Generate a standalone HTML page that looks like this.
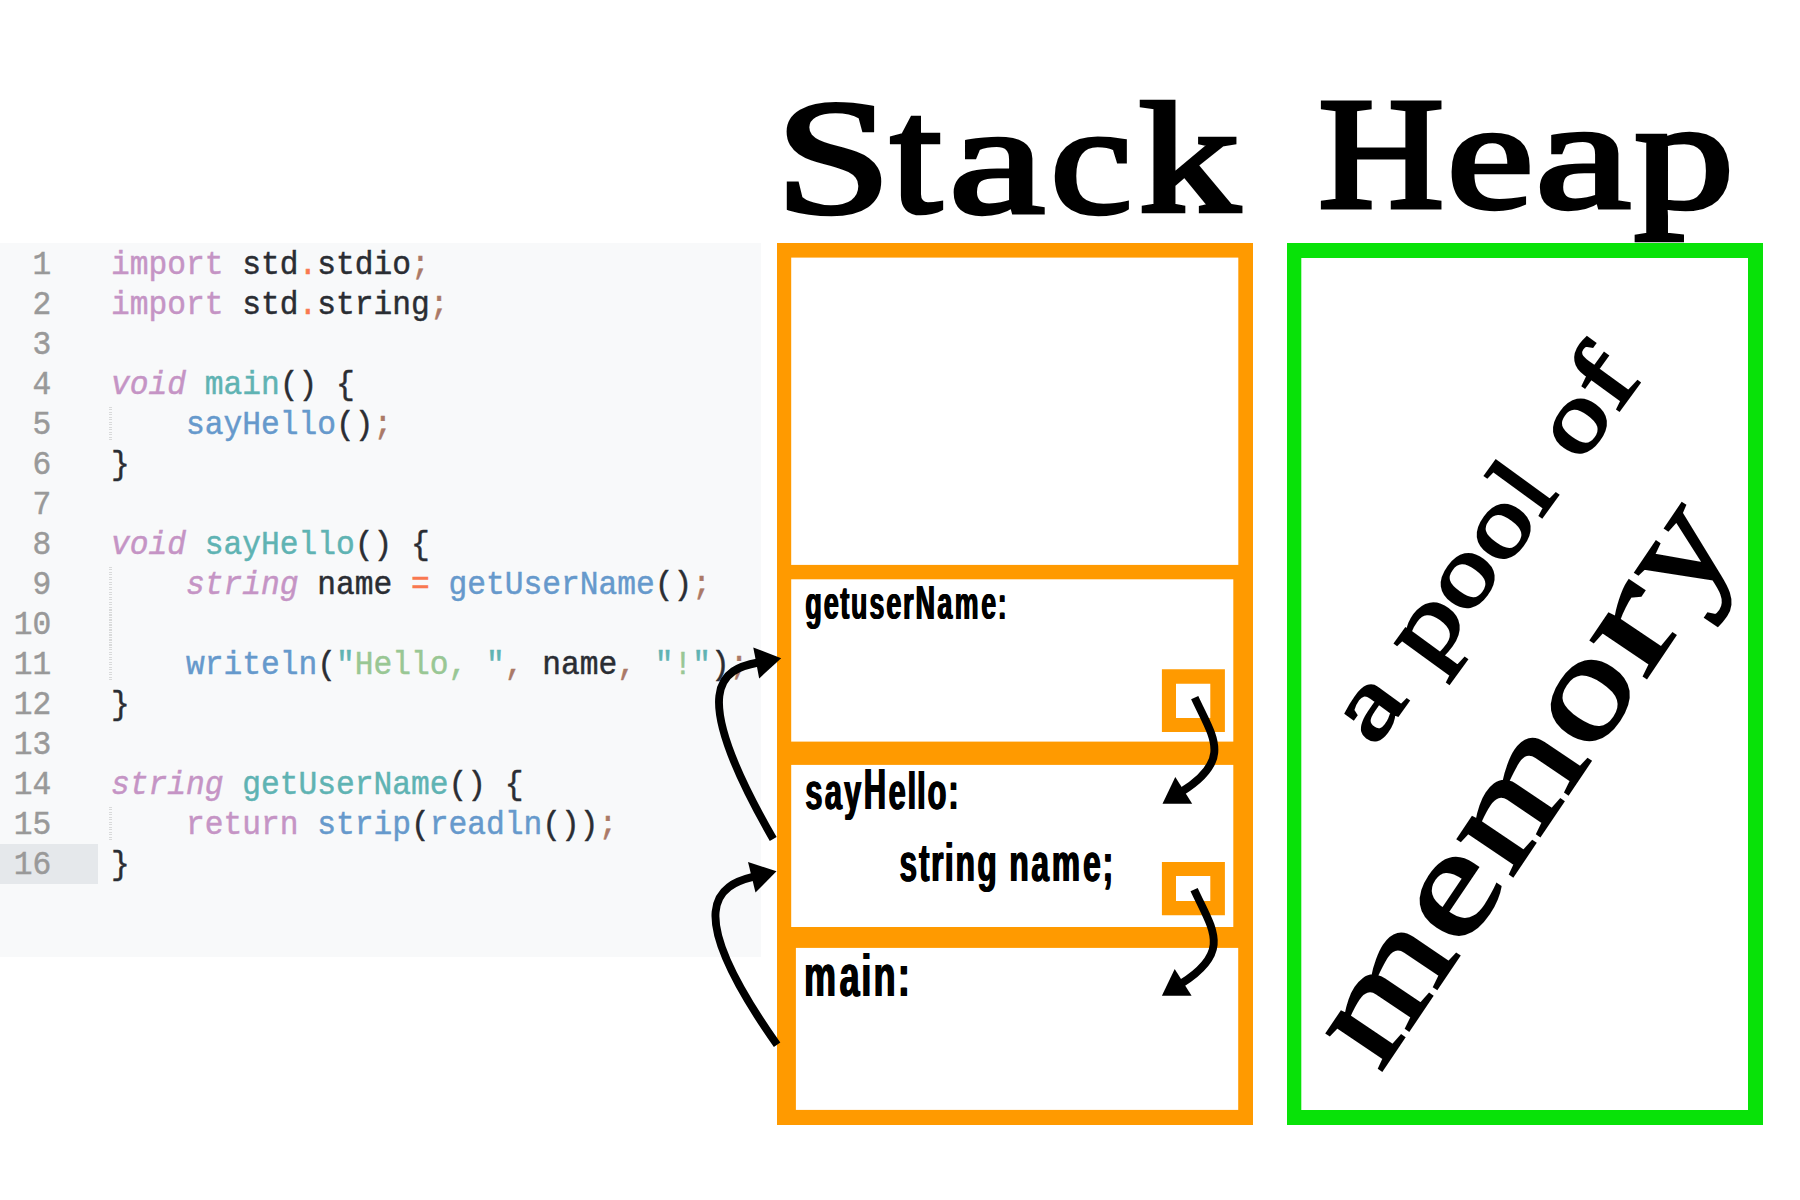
<!DOCTYPE html>
<html><head><meta charset="utf-8">
<style>
html,body{margin:0;padding:0;background:#fff;width:1800px;height:1200px;overflow:hidden;position:relative}
.code{position:absolute;left:0;top:243px;width:761px;height:714px;background:#f8f9fa}
.gut16{position:absolute;left:0;top:601px;width:98px;height:40px;background:#e5e8eb}
.ln,.cl{font-family:"Liberation Mono",monospace;font-size:31.25px;white-space:pre;font-kerning:none}
.ln,.cl{stroke-width:0.45px}
.ln{fill:#999;stroke:#999}
.cl{fill:#2a2d33;stroke:#2a2d33}
.k{fill:#c594c5;stroke:#c594c5}.i{font-style:italic}.f{fill:#5fb3b3;stroke:#5fb3b3}.c{fill:#6699cc;stroke:#6699cc}.s{fill:#99c794;stroke:#99c794}.p{fill:#ab7967;stroke:#ab7967}.o{fill:#f97850;stroke:#f97850}.q{fill:#5fb3b3;stroke:#5fb3b3}
.guide{position:absolute;left:109px;width:3px;background:repeating-linear-gradient(#d9dada 0 1px,transparent 1px 2.5px)}
svg{position:absolute;left:0;top:0}
</style></head><body>
<div class="code"><div class="gut16"></div></div>
<div class="guide" style="top:407px;height:35px"></div>
<div class="guide" style="top:567px;height:115px"></div>
<div class="guide" style="top:807px;height:35px"></div>
<svg width="1800" height="1200" viewBox="0 0 1800 1200">
<text class="ln" x="51.2" y="0" text-anchor="end" transform="translate(0 273.75) scale(1 1.06)">1</text>
<text class="cl" x="111" y="0" transform="translate(0 273.75) scale(1 1.06)" xml:space="preserve"><tspan class="k">import</tspan> std<tspan class="o">.</tspan>stdio<tspan class="p">;</tspan></text>
<text class="ln" x="51.2" y="0" text-anchor="end" transform="translate(0 313.75) scale(1 1.06)">2</text>
<text class="cl" x="111" y="0" transform="translate(0 313.75) scale(1 1.06)" xml:space="preserve"><tspan class="k">import</tspan> std<tspan class="o">.</tspan>string<tspan class="p">;</tspan></text>
<text class="ln" x="51.2" y="0" text-anchor="end" transform="translate(0 353.75) scale(1 1.06)">3</text>
<text class="ln" x="51.2" y="0" text-anchor="end" transform="translate(0 393.75) scale(1 1.06)">4</text>
<text class="cl" x="111" y="0" transform="translate(0 393.75) scale(1 1.06)" xml:space="preserve"><tspan class="k i">void</tspan> <tspan class="f">main</tspan>() {</text>
<text class="ln" x="51.2" y="0" text-anchor="end" transform="translate(0 433.75) scale(1 1.06)">5</text>
<text class="cl" x="111" y="0" transform="translate(0 433.75) scale(1 1.06)" xml:space="preserve">    <tspan class="c">sayHello</tspan>()<tspan class="p">;</tspan></text>
<text class="ln" x="51.2" y="0" text-anchor="end" transform="translate(0 473.75) scale(1 1.06)">6</text>
<text class="cl" x="111" y="0" transform="translate(0 473.75) scale(1 1.06)" xml:space="preserve">}</text>
<text class="ln" x="51.2" y="0" text-anchor="end" transform="translate(0 513.75) scale(1 1.06)">7</text>
<text class="ln" x="51.2" y="0" text-anchor="end" transform="translate(0 553.75) scale(1 1.06)">8</text>
<text class="cl" x="111" y="0" transform="translate(0 553.75) scale(1 1.06)" xml:space="preserve"><tspan class="k i">void</tspan> <tspan class="f">sayHello</tspan>() {</text>
<text class="ln" x="51.2" y="0" text-anchor="end" transform="translate(0 593.75) scale(1 1.06)">9</text>
<text class="cl" x="111" y="0" transform="translate(0 593.75) scale(1 1.06)" xml:space="preserve">    <tspan class="k i">string</tspan> name <tspan class="o">=</tspan> <tspan class="c">getUserName</tspan>()<tspan class="p">;</tspan></text>
<text class="ln" x="51.2" y="0" text-anchor="end" transform="translate(0 633.75) scale(1 1.06)">10</text>
<text class="ln" x="51.2" y="0" text-anchor="end" transform="translate(0 673.75) scale(1 1.06)">11</text>
<text class="cl" x="111" y="0" transform="translate(0 673.75) scale(1 1.06)" xml:space="preserve">    <tspan class="c">writeln</tspan>(<tspan class="q">"</tspan><tspan class="s">Hello, </tspan><tspan class="q">"</tspan><tspan class="p">,</tspan> name<tspan class="p">,</tspan> <tspan class="q">"</tspan><tspan class="s">!</tspan><tspan class="q">"</tspan>)<tspan class="p">;</tspan></text>
<text class="ln" x="51.2" y="0" text-anchor="end" transform="translate(0 713.75) scale(1 1.06)">12</text>
<text class="cl" x="111" y="0" transform="translate(0 713.75) scale(1 1.06)" xml:space="preserve">}</text>
<text class="ln" x="51.2" y="0" text-anchor="end" transform="translate(0 753.75) scale(1 1.06)">13</text>
<text class="ln" x="51.2" y="0" text-anchor="end" transform="translate(0 793.75) scale(1 1.06)">14</text>
<text class="cl" x="111" y="0" transform="translate(0 793.75) scale(1 1.06)" xml:space="preserve"><tspan class="k i">string</tspan> <tspan class="f">getUserName</tspan>() {</text>
<text class="ln" x="51.2" y="0" text-anchor="end" transform="translate(0 833.75) scale(1 1.06)">15</text>
<text class="cl" x="111" y="0" transform="translate(0 833.75) scale(1 1.06)" xml:space="preserve">    <tspan class="k">return</tspan> <tspan class="c">strip</tspan>(<tspan class="c">readln</tspan>())<tspan class="p">;</tspan></text>
<text class="ln" x="51.2" y="0" text-anchor="end" transform="translate(0 873.75) scale(1 1.06)">16</text>
<text class="cl" x="111" y="0" transform="translate(0 873.75) scale(1 1.06)" xml:space="preserve">}</text>
<g font-family="Liberation Serif" font-weight="normal" font-size="100" fill="#000" style="font-kerning:none">
<text transform="matrix(2.0831 0 0 1.6268 775.57 211.91)" stroke="#000" stroke-width="2.716" stroke-linejoin="miter" stroke-miterlimit="3">S</text>
<text transform="matrix(1.8306 0 0 1.6447 890.81 210.69)" stroke="#000" stroke-width="2.882" stroke-linejoin="miter" stroke-miterlimit="3">t</text>
<text transform="matrix(2.1569 0 0 1.5699 948.92 211.97)" stroke="#000" stroke-width="2.717" stroke-linejoin="miter" stroke-miterlimit="3">a</text>
<text transform="matrix(1.8320 0 0 1.5635 1050.52 211.97)" stroke="#000" stroke-width="2.954" stroke-linejoin="miter" stroke-miterlimit="3">c</text>
<text transform="matrix(2.0168 0 0 1.5666 1138.66 211.20)" stroke="#000" stroke-width="2.813" stroke-linejoin="miter" stroke-miterlimit="3">k</text>
<text transform="matrix(1.7363 0 0 1.5883 1318.50 206.50)" stroke="#000" stroke-width="3.011" stroke-linejoin="miter" stroke-miterlimit="3">H</text>
<text transform="matrix(1.9561 0 0 1.5511 1446.86 207.09)" stroke="#000" stroke-width="2.870" stroke-linejoin="miter" stroke-miterlimit="3">e</text>
<text transform="matrix(2.1493 0 0 1.5574 1535.14 207.08)" stroke="#000" stroke-width="2.733" stroke-linejoin="miter" stroke-miterlimit="3">a</text>
<text transform="matrix(1.9963 0 0 1.5510 1634.28 207.48)" stroke="#000" stroke-width="2.842" stroke-linejoin="miter" stroke-miterlimit="3">p</text>
</g>
<g fill="#ff9a00">
<rect x="777" y="243" width="476" height="882"/>
</g>
<g fill="#fff">
<rect x="791.2" y="257.6" width="447.1" height="307.3"/>
<rect x="791.2" y="579.3" width="442.1" height="162.3"/>
<rect x="791.2" y="764.9" width="442.1" height="162.1"/>
<rect x="795.9" y="947.9" width="442.3" height="162"/>
</g>
<path fill="#ff9a00" fill-rule="evenodd" d="M1161.9 669.2H1224.9V732H1161.9Z M1176 683.7H1210.3V718H1176Z"/>
<path fill="#ff9a00" fill-rule="evenodd" d="M1161.9 862H1224.9V915.3H1161.9Z M1176 876H1210.3V901H1176Z"/>
<path fill="#08e208" fill-rule="evenodd" d="M1287 243H1763V1125H1287Z M1301.3 258H1748V1110H1301.3Z"/>
<g font-family="Liberation Sans" font-weight="bold" font-size="100" fill="#000" style="font-kerning:none">
<g>
<text transform="matrix(0.2679 0 0 0.4599 804.70 618.60)">g</text>
<text transform="matrix(0.2679 0 0 0.4599 823.26 618.60)">e</text>
<text transform="matrix(0.2679 0 0 0.4599 839.77 618.60)">t</text>
<text transform="matrix(0.2679 0 0 0.4599 850.41 618.60)">u</text>
<text transform="matrix(0.2679 0 0 0.4599 868.91 618.60)">s</text>
<text transform="matrix(0.2679 0 0 0.4599 885.86 618.60)">e</text>
<text transform="matrix(0.2679 0 0 0.4599 902.57 618.60)">r</text>
<text transform="matrix(0.2679 0 0 0.4826 914.94 618.60)">N</text>
<text transform="matrix(0.2679 0 0 0.4599 936.69 618.60)">a</text>
<text transform="matrix(0.2679 0 0 0.4599 954.17 618.60)">m</text>
<text transform="matrix(0.2679 0 0 0.4599 980.64 618.60)">e</text>
<text transform="matrix(0.2679 0 0 0.4599 997.15 618.60)">:</text>
<text transform="matrix(0.3069 0 0 0.5262 804.72 808.80)">s</text>
<text transform="matrix(0.3069 0 0 0.5262 824.21 808.80)">a</text>
<text transform="matrix(0.3069 0 0 0.5262 843.53 808.80)">y</text>
<text transform="matrix(0.3069 0 0 0.5727 863.27 808.80)">H</text>
<text transform="matrix(0.3069 0 0 0.5262 888.12 808.80)">e</text>
<text transform="matrix(0.3069 0 0 0.5262 906.93 808.80)">l</text>
<text transform="matrix(0.3069 0 0 0.5262 916.62 808.80)">l</text>
<text transform="matrix(0.3069 0 0 0.5262 927.01 808.80)">o</text>
<text transform="matrix(0.3069 0 0 0.5262 947.73 808.80)">:</text>
<text transform="matrix(0.3162 0 0 0.5432 898.89 880.70)">s</text>
<text transform="matrix(0.3162 0 0 0.5432 918.40 880.70)">t</text>
<text transform="matrix(0.3162 0 0 0.5432 930.60 880.70)">r</text>
<text transform="matrix(0.3162 0 0 0.5432 944.23 880.70)">i</text>
<text transform="matrix(0.3162 0 0 0.5432 954.94 880.70)">n</text>
<text transform="matrix(0.3162 0 0 0.5432 976.83 880.70)">g</text>
<text transform="matrix(0.3162 0 0 0.5432 1008.82 880.70)">n</text>
<text transform="matrix(0.3162 0 0 0.5432 1030.72 880.70)">a</text>
<text transform="matrix(0.3162 0 0 0.5432 1051.36 880.70)">m</text>
<text transform="matrix(0.3162 0 0 0.5432 1082.59 880.70)">e</text>
<text transform="matrix(0.3162 0 0 0.5432 1102.08 880.70)">;</text>
<text transform="matrix(0.3587 0 0 0.6000 803.44 995.50)">m</text>
<text transform="matrix(0.3587 0 0 0.6000 838.94 995.50)">a</text>
<text transform="matrix(0.3587 0 0 0.6000 860.84 995.50)">i</text>
<text transform="matrix(0.3587 0 0 0.6000 872.99 995.50)">n</text>
<text transform="matrix(0.3587 0 0 0.6000 897.21 995.50)">:</text>
</g>
<g transform="translate(0.6 0)">
<text transform="matrix(0.2679 0 0 0.4599 804.70 618.60)">g</text>
<text transform="matrix(0.2679 0 0 0.4599 823.26 618.60)">e</text>
<text transform="matrix(0.2679 0 0 0.4599 839.77 618.60)">t</text>
<text transform="matrix(0.2679 0 0 0.4599 850.41 618.60)">u</text>
<text transform="matrix(0.2679 0 0 0.4599 868.91 618.60)">s</text>
<text transform="matrix(0.2679 0 0 0.4599 885.86 618.60)">e</text>
<text transform="matrix(0.2679 0 0 0.4599 902.57 618.60)">r</text>
<text transform="matrix(0.2679 0 0 0.4826 914.94 618.60)">N</text>
<text transform="matrix(0.2679 0 0 0.4599 936.69 618.60)">a</text>
<text transform="matrix(0.2679 0 0 0.4599 954.17 618.60)">m</text>
<text transform="matrix(0.2679 0 0 0.4599 980.64 618.60)">e</text>
<text transform="matrix(0.2679 0 0 0.4599 997.15 618.60)">:</text>
<text transform="matrix(0.3069 0 0 0.5262 804.72 808.80)">s</text>
<text transform="matrix(0.3069 0 0 0.5262 824.21 808.80)">a</text>
<text transform="matrix(0.3069 0 0 0.5262 843.53 808.80)">y</text>
<text transform="matrix(0.3069 0 0 0.5727 863.27 808.80)">H</text>
<text transform="matrix(0.3069 0 0 0.5262 888.12 808.80)">e</text>
<text transform="matrix(0.3069 0 0 0.5262 906.93 808.80)">l</text>
<text transform="matrix(0.3069 0 0 0.5262 916.62 808.80)">l</text>
<text transform="matrix(0.3069 0 0 0.5262 927.01 808.80)">o</text>
<text transform="matrix(0.3069 0 0 0.5262 947.73 808.80)">:</text>
<text transform="matrix(0.3162 0 0 0.5432 898.89 880.70)">s</text>
<text transform="matrix(0.3162 0 0 0.5432 918.40 880.70)">t</text>
<text transform="matrix(0.3162 0 0 0.5432 930.60 880.70)">r</text>
<text transform="matrix(0.3162 0 0 0.5432 944.23 880.70)">i</text>
<text transform="matrix(0.3162 0 0 0.5432 954.94 880.70)">n</text>
<text transform="matrix(0.3162 0 0 0.5432 976.83 880.70)">g</text>
<text transform="matrix(0.3162 0 0 0.5432 1008.82 880.70)">n</text>
<text transform="matrix(0.3162 0 0 0.5432 1030.72 880.70)">a</text>
<text transform="matrix(0.3162 0 0 0.5432 1051.36 880.70)">m</text>
<text transform="matrix(0.3162 0 0 0.5432 1082.59 880.70)">e</text>
<text transform="matrix(0.3162 0 0 0.5432 1102.08 880.70)">;</text>
<text transform="matrix(0.3587 0 0 0.6000 803.44 995.50)">m</text>
<text transform="matrix(0.3587 0 0 0.6000 838.94 995.50)">a</text>
<text transform="matrix(0.3587 0 0 0.6000 860.84 995.50)">i</text>
<text transform="matrix(0.3587 0 0 0.6000 872.99 995.50)">n</text>
<text transform="matrix(0.3587 0 0 0.6000 897.21 995.50)">:</text>
</g>
<g transform="translate(1.2 0)">
<text transform="matrix(0.2679 0 0 0.4599 804.70 618.60)">g</text>
<text transform="matrix(0.2679 0 0 0.4599 823.26 618.60)">e</text>
<text transform="matrix(0.2679 0 0 0.4599 839.77 618.60)">t</text>
<text transform="matrix(0.2679 0 0 0.4599 850.41 618.60)">u</text>
<text transform="matrix(0.2679 0 0 0.4599 868.91 618.60)">s</text>
<text transform="matrix(0.2679 0 0 0.4599 885.86 618.60)">e</text>
<text transform="matrix(0.2679 0 0 0.4599 902.57 618.60)">r</text>
<text transform="matrix(0.2679 0 0 0.4826 914.94 618.60)">N</text>
<text transform="matrix(0.2679 0 0 0.4599 936.69 618.60)">a</text>
<text transform="matrix(0.2679 0 0 0.4599 954.17 618.60)">m</text>
<text transform="matrix(0.2679 0 0 0.4599 980.64 618.60)">e</text>
<text transform="matrix(0.2679 0 0 0.4599 997.15 618.60)">:</text>
<text transform="matrix(0.3069 0 0 0.5262 804.72 808.80)">s</text>
<text transform="matrix(0.3069 0 0 0.5262 824.21 808.80)">a</text>
<text transform="matrix(0.3069 0 0 0.5262 843.53 808.80)">y</text>
<text transform="matrix(0.3069 0 0 0.5727 863.27 808.80)">H</text>
<text transform="matrix(0.3069 0 0 0.5262 888.12 808.80)">e</text>
<text transform="matrix(0.3069 0 0 0.5262 906.93 808.80)">l</text>
<text transform="matrix(0.3069 0 0 0.5262 916.62 808.80)">l</text>
<text transform="matrix(0.3069 0 0 0.5262 927.01 808.80)">o</text>
<text transform="matrix(0.3069 0 0 0.5262 947.73 808.80)">:</text>
<text transform="matrix(0.3162 0 0 0.5432 898.89 880.70)">s</text>
<text transform="matrix(0.3162 0 0 0.5432 918.40 880.70)">t</text>
<text transform="matrix(0.3162 0 0 0.5432 930.60 880.70)">r</text>
<text transform="matrix(0.3162 0 0 0.5432 944.23 880.70)">i</text>
<text transform="matrix(0.3162 0 0 0.5432 954.94 880.70)">n</text>
<text transform="matrix(0.3162 0 0 0.5432 976.83 880.70)">g</text>
<text transform="matrix(0.3162 0 0 0.5432 1008.82 880.70)">n</text>
<text transform="matrix(0.3162 0 0 0.5432 1030.72 880.70)">a</text>
<text transform="matrix(0.3162 0 0 0.5432 1051.36 880.70)">m</text>
<text transform="matrix(0.3162 0 0 0.5432 1082.59 880.70)">e</text>
<text transform="matrix(0.3162 0 0 0.5432 1102.08 880.70)">;</text>
<text transform="matrix(0.3587 0 0 0.6000 803.44 995.50)">m</text>
<text transform="matrix(0.3587 0 0 0.6000 838.94 995.50)">a</text>
<text transform="matrix(0.3587 0 0 0.6000 860.84 995.50)">i</text>
<text transform="matrix(0.3587 0 0 0.6000 872.99 995.50)">n</text>
<text transform="matrix(0.3587 0 0 0.6000 897.21 995.50)">:</text>
</g>
</g>
<g font-family="Liberation Serif" font-weight="bold" font-size="100" fill="#000" style="font-kerning:none">
<g transform="translate(1542.4 518.8) rotate(-54)" font-weight="normal">
<text transform="matrix(1.3417 0 0 0.9603 -284.22 -1.44)" stroke="#000" stroke-width="2.643" stroke-linejoin="miter" stroke-miterlimit="3">a</text>
<text transform="matrix(1.3151 0 0 1.0013 -189.62 0.18)" stroke="#000" stroke-width="2.614" stroke-linejoin="miter" stroke-miterlimit="3">p</text>
<text transform="matrix(1.2033 0 0 0.9772 -124.08 -1.45)" stroke="#000" stroke-width="2.767" stroke-linejoin="miter" stroke-miterlimit="3">o</text>
<text transform="matrix(1.2033 0 0 0.9772 -63.08 -1.45)" stroke="#000" stroke-width="2.767" stroke-linejoin="miter" stroke-miterlimit="3">o</text>
<text transform="matrix(1.1144 0 0 1.0089 -0.73 -1.50)" stroke="#000" stroke-width="2.829" stroke-linejoin="miter" stroke-miterlimit="3">l</text>
<text transform="matrix(1.2033 0 0 0.9772 66.92 -1.45)" stroke="#000" stroke-width="2.767" stroke-linejoin="miter" stroke-miterlimit="3">o</text>
<text transform="matrix(1.3400 0 0 0.9942 127.88 -1.50)" stroke="#000" stroke-width="2.599" stroke-linejoin="miter" stroke-miterlimit="3">f</text>
</g>
<g transform="translate(1382.6 1071.9) rotate(-56)" font-weight="normal">
<text transform="matrix(1.8483 0 0 1.4432 -2.38 -1.50)" stroke="#000" stroke-width="1.837" stroke-linejoin="miter" stroke-miterlimit="3">m</text>
<text transform="matrix(1.9183 0 0 1.4554 144.01 -1.92)" stroke="#000" stroke-width="1.795" stroke-linejoin="miter" stroke-miterlimit="3">e</text>
<text transform="matrix(1.8564 0 0 1.4432 232.00 -1.50)" stroke="#000" stroke-width="1.833" stroke-linejoin="miter" stroke-miterlimit="3">m</text>
<text transform="matrix(1.8168 0 0 1.4554 378.58 -1.92)" stroke="#000" stroke-width="1.845" stroke-linejoin="miter" stroke-miterlimit="3">o</text>
<text transform="matrix(2.2847 0 0 1.4644 470.43 -1.50)" stroke="#000" stroke-width="1.640" stroke-linejoin="miter" stroke-miterlimit="3">r</text>
<text transform="matrix(1.7029 0 0 1.4671 554.02 -2.16)" stroke="#000" stroke-width="1.898" stroke-linejoin="miter" stroke-miterlimit="3">y</text>
</g>
</g>
<g fill="none" stroke="#000" stroke-width="7.9">
<path d="M773.2 839.0 C685.1 685.9 722.7 669.2 758.2 662.5"/>
<path d="M777.1 1044.8 C679.3 905.9 718.7 885.3 753.8 876.7"/>
<path d="M1194.7 697.6 C1212.8 737.1 1233.1 759.3 1182.1 791.4"/>
<path d="M1194.1 889.6 C1212.2 929.1 1232.5 951.3 1181.5 983.4"/>
</g>
<g fill="#000">
<path d="M781.2 658.2 L759.2 678.4 L753.3 647.4Z"/>
<path d="M776.5 871.2 L755.5 892.5 L748.0 862.0Z"/>
<path d="M1162.5 803.8 L1175.3 777.1 L1192.2 803.7Z"/>
<path d="M1161.9 995.8 L1174.7 969.1 L1191.6 995.7Z"/>
</g>
</svg>
</body></html>
